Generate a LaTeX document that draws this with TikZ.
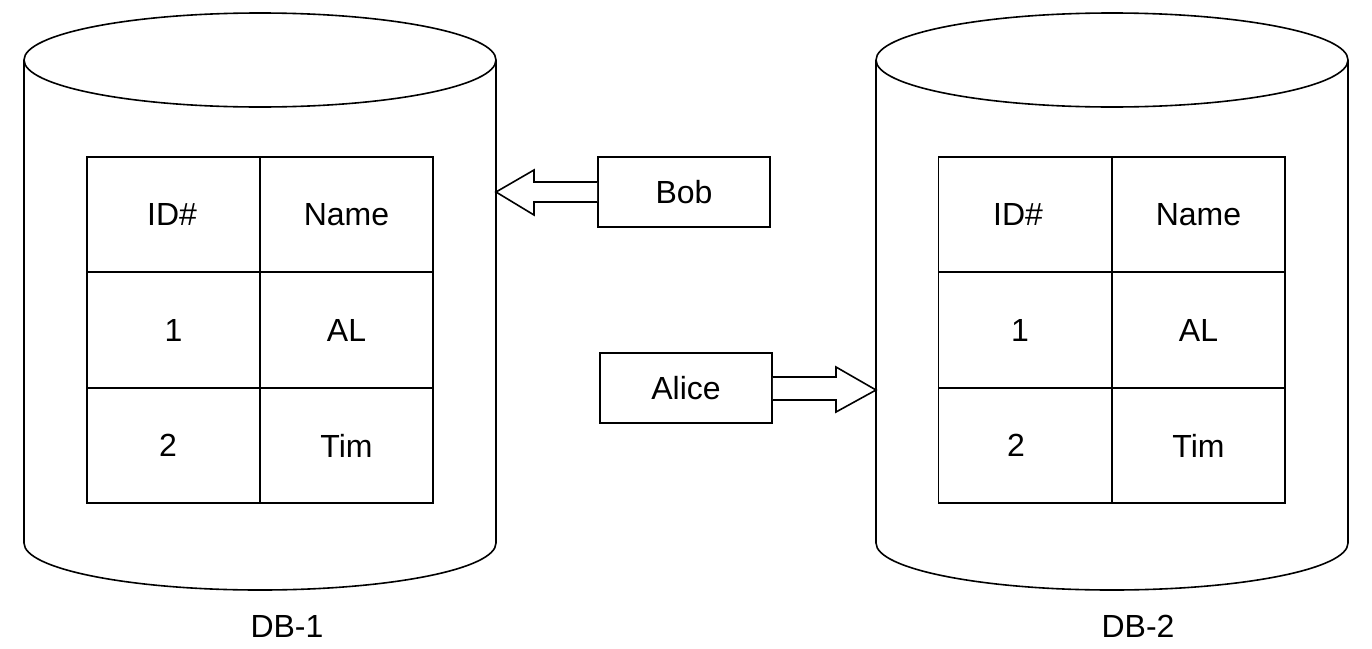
\documentclass[tikz,border=0pt]{standalone}
\usepackage{fontspec}
\setmainfont{Liberation Sans}
\usetikzlibrary{calc}
\tikzset{
  ln/.style={line width=1.6pt, line join=miter},
  txt/.style={font=\fontsize{32}{34}\selectfont},
  cell/.style={draw, ln, txt, minimum width=173pt, minimum height=115.5pt, inner sep=0pt},
  person/.style={draw, ln, txt, minimum width=172pt, minimum height=70pt, inner sep=0pt},
  lbl/.style={txt, inner sep=0pt},
  fatarrow/.style={draw, ln, fill=white}
}
\begin{document}
\begin{tikzpicture}[x=1pt,y=-1pt]
\useasboundingbox (0,0) rectangle (1372,648);
% cylinders
\foreach \cx/\nm in {260/c1, 1112/c2}{
  \draw[ln] (\cx-236,60) -- (\cx-236,543) arc[start angle=180, end angle=360, x radius=236, y radius=-47] -- (\cx+236,60);
  \draw[ln] (\cx,60) ellipse[x radius=236, y radius=47];
}
\coordinate (db1east) at (496,192);
\coordinate (db2west) at (876,390);
\node[lbl] (l1) at (287,626) {DB-1};
\node[lbl] (l2) at (1138,626) {DB-2};
% table 1
\node[cell] (a11) at (173.5,214.5) {ID\#\kern3pt};
\node[cell] (a12) at (346.5,214.5) {Name};
\node[cell] (a21) at (173.5,330) {1};
\node[cell] (a22) at (346.5,330) {AL};
\node[cell] (a31) at (173.5,445.5) {2\kern11pt};
\node[cell] (a32) at (346.5,445.5) {Tim};
% table 2
\node[cell] (b11) at (1025,214.5) {ID\#\kern14pt};
\node[cell] (b12) at (1198.5,214.5) {Name};
\node[cell] (b21) at (1025,330) {1\kern10pt};
\node[cell] (b22) at (1198.5,330) {AL};
\node[cell] (b31) at (1025,445.5) {2\kern18pt};
\node[cell] (b32) at (1198.5,445.5) {Tim};
% persons
\node[person] (bob) at (684,192) {Bob};
\node[person] (alice) at (686,388) {Alice};
% hollow arrows
\draw[fatarrow] ($(bob.west)+(0,-10)$) -- ($(db1east)+(38,-10)$) -- ($(db1east)+(38,-22)$) -- (db1east)
  -- ($(db1east)+(38,23)$) -- ($(db1east)+(38,10)$) -- ($(bob.west)+(0,10)$);
\draw[fatarrow] ($(alice.east)+(0,-11)$) -- ($(db2west)+(-40,-13)$) -- ($(db2west)+(-40,-23)$) -- (db2west)
  -- ($(db2west)+(-40,22)$) -- ($(db2west)+(-40,10)$) -- ($(alice.east)+(0,12)$);
\end{tikzpicture}
\end{document}
